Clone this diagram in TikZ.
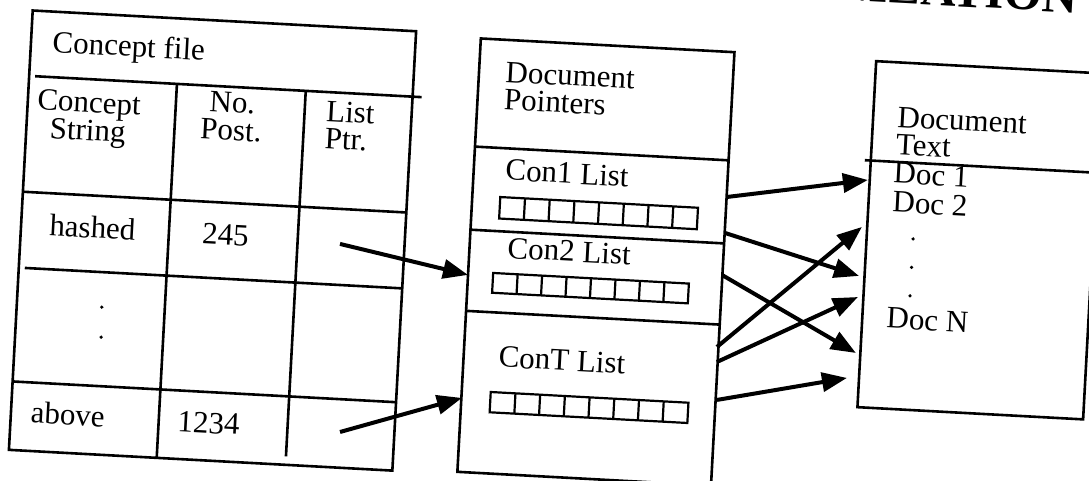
\documentclass[tikz,border=0pt]{standalone}
\usepackage{fontspec}
\setmainfont{Liberation Serif}
\usetikzlibrary{arrows.meta}

% two-line labels whose reference point is the baseline of the first line
\newcommand\stackc[2]{\vtop{\baselineskip=27.5pt\lineskiplimit=-20pt\halign{\hfil##\hfil\cr#1\cr#2\cr}}}
\newcommand\stackl[2]{\vtop{\baselineskip=27.5pt\lineskiplimit=-20pt\halign{##\hfil\cr#1\cr#2\cr}}}

% a row of eight pointer cells
\newcommand\drawcells[4]{%
  \draw[cellline] (#1,#2) rectangle (#3,#4);
  \foreach \k in {1,...,7} {\draw[cellline] ({#1+\k*(#3-#1)/8},#2) -- ({#1+\k*(#3-#1)/8},#4);}%
}

\tikzset{
  box/.style={draw, line width=2.6pt, inner sep=0pt},
  rule/.style={line width=2.6pt},
  cellline/.style={line width=2.2pt},
  lbl/.style={inner sep=0pt, font=\fontsize{31}{27.5}\selectfont},
  headline/.style={inner sep=0pt, font=\bfseries\fontsize{49}{49}\selectfont},
  arr/.style={line width=4pt, -{Triangle[length=25pt,width=19pt]}},
}

\begin{document}
\begin{tikzpicture}[x=1pt,y=-1pt]
\path[use as bounding box] (0,0) rectangle (1089,481);
\fill[white] (0,0) rectangle (1089,481);
\clip (0,0) rectangle (1089,481);

\begin{scope}[rotate around={-3.1:(544.5,240.5)}, transform shape]

  % heading above the figure
  \node[headline, anchor=base east] (heading) at (1064,-15.5) {NIZATION};

  % ---------- concept file ----------
  \node[box, minimum width=384pt, minimum height=440pt] (cfile) at (213,258.5) {};
  \draw[rule] (27,104) -- (414,104);
  \draw[rule] (21,220) -- (405,220);
  \draw[rule] (27,296) -- (405,296);
  \draw[rule] (21,410) -- (405,410);
  \draw[rule] (169,104) -- (169,478.5);
  \draw[rule] (298,104) -- (298,470);

  \node[lbl, anchor=base west] (cftitle) at (42.5,79) {Concept file};
  \node[lbl, anchor=base] (hstring) at (82.4,137.5) {\stackc{Concept}{String}};
  \node[lbl, anchor=base] (hpost) at (225.5,130) {\stackc{No.}{Post.}};
  \node[lbl, anchor=base west] (hptr) at (319.5,133) {\stackl{List}{Ptr.}};
  \node[lbl, anchor=base] (hashed) at (92.5,262.5) {hashed};
  \node[lbl, anchor=base] (n245) at (225.7,262.3) {245};
  \fill (106,331) circle[radius=1.8pt];
  \fill (107,361) circle[radius=1.8pt];
  \node[lbl, anchor=base west] (above) at (40.7,450.5) {above};
  \node[lbl, anchor=base] (n1234) at (219,451) {1234};

  % ---------- document pointers ----------
  \node[box, minimum width=254pt, minimum height=434pt] (dptr) at (597,259.2) {};
  \draw[rule] (470,150.5) -- (724,150.5);
  \draw[rule] (470,233.7) -- (724,233.7);
  \draw[rule] (470,315) -- (724,315);

  \node[lbl, anchor=base west] (dptitle) at (496.5,84.4) {\stackl{Document}{Pointers}};
  \node[lbl, anchor=base west] (con1) at (501.7,182.2) {Con1 List};
  \drawcells{498}{199.5}{696}{221}
  \node[lbl, anchor=base west] (con2) at (508,260) {Con2 List};
  \drawcells{495}{275.7}{691}{295.5}
  \node[lbl, anchor=base west] (cont) at (505,369.3) {ConT List};
  \drawcells{499}{394.7}{697}{415}

  % ---------- document text ----------
  \node[lbl, anchor=base west] (dttitle) at (890.3,108.1) {\stackl{Document}{Text}};
  \node[lbl, anchor=base west] (doc1) at (889.4,164.2) {Doc 1};
  \node[lbl, anchor=base west] (doc2) at (889.9,193.2) {Doc 2};
  \fill (912.5,219) circle[radius=1.8pt];
  \fill (912.5,247.5) circle[radius=1.8pt];
  \fill (912.5,276) circle[radius=1.8pt];
  \node[lbl, anchor=base west] (docn) at (890.2,309.4) {Doc N};
  \node[box, minimum width=226pt, minimum height=346.5pt] (dtext) at (979,216.75) {};
  \draw[rule] (860,143) -- (1092,143);

  % ---------- pointers ----------
  \coordinate (t1s) at (340.5,255);   \coordinate (t1e) at (470,279);
  \coordinate (t2s) at (350.7,442.8); \coordinate (t2e) at (470.6,402.2);
  \draw[arr] (t1s) -- (t1e);
  \draw[arr] (t2s) -- (t2e);

  \coordinate (a1s) at (724.4,187.2); \coordinate (a1e) at (864.2,162.6);
  \coordinate (a2s) at (724.3,223.2); \coordinate (a2e) at (860.5,258.9);
  \coordinate (a3s) at (723.6,265.3); \coordinate (a3e) at (861.6,336);
  \coordinate (a4s) at (722.5,337.5); \coordinate (a4e) at (860.8,209.8);
  \coordinate (a5s) at (723.3,352.5); \coordinate (a5e) at (860.6,280);
  \coordinate (a6s) at (725.4,390.4); \coordinate (a6e) at (854,361.4);
  \draw[arr] (a1s) -- (a1e);
  \draw[arr] (a2s) -- (a2e);
  \draw[arr] (a3s) -- (a3e);
  \draw[arr] (a4s) -- (a4e);
  \draw[arr] (a5s) -- (a5e);
  \draw[arr] (a6s) -- (a6e);

\end{scope}
\end{tikzpicture}
\end{document}
